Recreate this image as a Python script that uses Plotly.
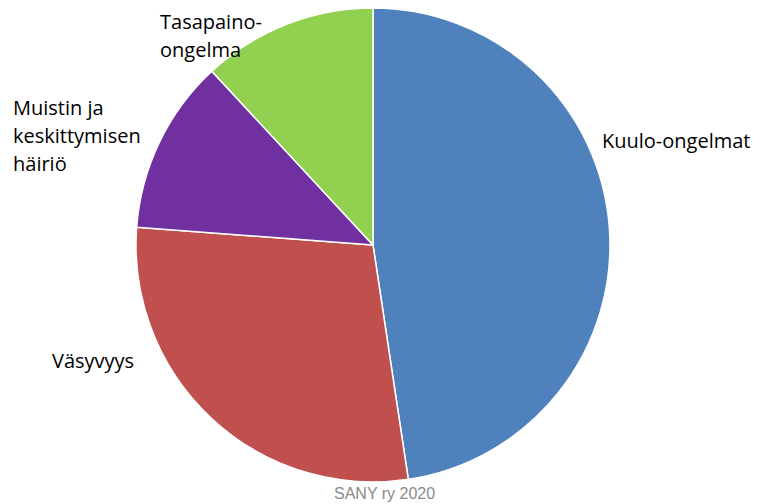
import plotly.graph_objects as go

categories = ["Kuulo-ongelmat", "Väsyvyys", "Muistin ja keskittymisen häiriö", "Tasapaino-ongelma"]
values = [20, 12, 5, 5]
colors = ["#4F81BD", "#C0504D", "#7030A0", "#92D050"]
label_lines = [
    ["Kuulo-ongelmat"],
    ["Väsyvyys"],
    ["Muistin ja", "keskittymisen", "häiriö"],
    ["Tasapaino-", "ongelma"],
]
source_text = "SANY ry 2020"

# page body has an 8px margin; work in reference pixels and offset
OFF = 8
W, H = 753, 496


def px_x(x):
    return (x - OFF) / W


def px_y(y):
    return 1 - (y - OFF) / H


fig = go.Figure(go.Pie(
    labels=categories, values=values, sort=False, direction="clockwise", rotation=0,
    marker=dict(colors=colors, line=dict(color="white", width=1.5)),
    textinfo="none", hoverinfo="label+percent", showlegend=False,
    domain=dict(x=[px_x(136), px_x(610)], y=[px_y(482), px_y(8)]),
))

# label anchor positions in reference pixels (left x, first line center y)
label_pos = [(601, 140), (51, 360), (12, 107), (159, 21)]
line_gap = 28.5
ann = []
for lines, (px, py) in zip(label_lines, label_pos):
    for i, t in enumerate(lines):
        ann.append(dict(text=t, x=px_x(px), y=px_y(py + i * line_gap), xref="paper", yref="paper",
                        xanchor="left", yanchor="middle", showarrow=False, borderpad=0,
                        font=dict(family="Open Sans", size=20, color="#000000")))
ann.append(dict(text=source_text, x=px_x(384), y=px_y(493), xref="paper", yref="paper",
                xanchor="center", yanchor="middle", showarrow=False, borderpad=0,
                font=dict(family="Liberation Sans", size=16, color="#8A8A8A")))

fig.update_layout(width=W, height=H, margin=dict(l=0, r=0, t=0, b=0),
                  paper_bgcolor="white", plot_bgcolor="white", annotations=ann)
fig.write_html("out.html")
